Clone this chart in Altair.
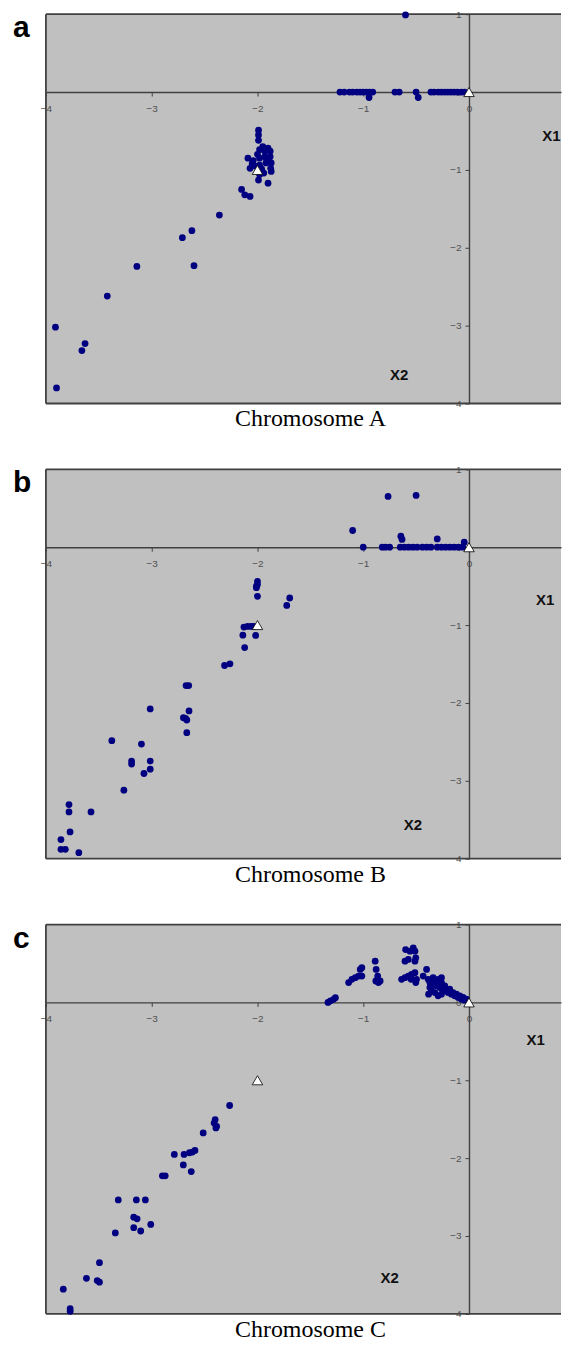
import altair as alt
import pandas as pd

# ---------------- data ----------------
a_x = [-0.60,
       -1.22, -1.18, -1.13, -1.10, -1.06, -1.03, -1.00, -0.97, -0.94, -0.91, -0.945,
       -0.70, -0.66, -0.50, -0.48,
       -0.36, -0.33, -0.29, -0.26, -0.23, -0.20, -0.17, -0.14, -0.11, -0.07, -0.04,
       -1.99, -1.99, -1.99, -1.95, -1.90, -1.98, -1.93, -1.88, -2.09, -2.04, -1.98,
       -1.93, -1.88, -1.87, -2.02, -1.98, -1.92, -1.875, -1.87, -2.07, -1.98, -1.99,
       -1.90, -2.15, -2.12, -2.07, -1.96, -1.94, -2.00, -1.91, -2.05,
       -2.36, -2.62, -2.71, -2.60, -3.14, -3.42, -3.91, -3.63, -3.66, -3.90]
a_y = [0.99,
       0, 0, 0, 0, 0, 0, 0, 0, 0, 0, -0.07,
       0, 0, 0, -0.07,
       0, 0, 0, 0, 0, 0, 0, 0, 0, 0, 0,
       -0.49, -0.55, -0.62, -0.70, -0.72, -0.74, -0.76, -0.76, -0.85, -0.88, -0.85,
       -0.83, -0.83, -0.91, -0.95, -0.94, -0.91, -0.98, -1.02, -0.98, -1.06, -1.13,
       -1.17, -1.25, -1.32, -1.34, -0.99, -1.04, -0.80, -0.87, -0.92,
       -1.58, -1.78, -1.87, -2.23, -2.24, -2.62, -3.02, -3.23, -3.32, -3.80]

b_x = [-0.765, -0.50, -1.10, -0.644, -0.633, -0.30, -0.045,
       -1.00, -0.82, -0.79, -0.75, -0.65, -0.61, -0.57, -0.53, -0.49, -0.44, -0.40,
       -0.36, -0.30, -0.26, -0.22, -0.18, -0.14, -0.10, -0.06,
       -2.00, -2.00, -2.01, -2.01, -2.00, -1.695, -1.723,
       -2.128, -2.093, -2.059, -2.035, -2.138, -2.017, -2.121,
       -2.311, -2.26, -2.675, -2.65, -3.014, -2.647, -2.68, -2.668, -2.70, -2.668,
       -3.377, -3.097, -3.19, -3.19, -3.014, -3.014, -3.073, -3.263,
       -3.782, -3.782, -3.574, -3.772, -3.858, -3.858, -3.817, -3.689]
b_y = [0.652, 0.665, 0.215, 0.142, 0.10, 0.107, 0.064,
       0, 0, 0, 0, 0, 0, 0, 0, 0, 0, 0,
       0, 0, 0, 0, 0, 0, 0, 0,
       -0.44, -0.48, -0.50, -0.52, -0.63, -0.652, -0.747,
       -1.026, -1.017, -1.017, -1.017, -1.129, -1.133, -1.288,
       -1.519, -1.498, -1.777, -1.777, -2.077, -2.103, -2.197, -2.219, -2.19, -2.382,
       -2.485, -2.528, -2.747, -2.785, -2.747, -2.85, -2.906, -3.12,
       -3.305, -3.399, -3.399, -3.657, -3.755, -3.88, -3.88, -3.923]

c_x = [-1.333, -1.31, -1.28, -1.263,
       -1.138, -1.107, -1.075, -1.044, -1.028, -1.013, -1.013,
       -0.887, -0.878, -0.863, -0.881, -0.856, -0.84,
       -0.637, -0.605, -0.574, -0.543, -0.511, -0.496, -0.605, -0.574, -0.558, -0.527,
       -0.511, -0.511, -0.599, -0.503, -0.503, -0.547,
       -0.433, -0.401, -0.386, -0.370, -0.355, -0.339, -0.323, -0.307, -0.292, -0.276,
       -0.26, -0.26, -0.245, -0.229, -0.213, -0.198, -0.182, -0.166, -0.151, -0.135,
       -0.119, -0.103, -0.087, -0.072, -0.056, -0.04, -0.025, -0.382, -0.355, -0.323,
       -0.292, -0.26, -0.370,
       -2.263, -2.41, -2.393, -2.386, -2.40, -2.513, -2.786, -2.694, -2.643, -2.615,
       -2.591, -2.701, -2.626, -2.899, -2.872, -3.316, -3.145, -3.06, -3.17, -3.138,
       -3.17, -3.104, -3.009, -3.344, -3.494, -3.617, -3.515, -3.494, -3.836, -3.771,
       -3.771]
c_y = [0.0, 0.02, 0.04, 0.06,
       0.255, 0.297, 0.318, 0.339, 0.424, 0.339, 0.446,
       0.53, 0.424, 0.339, 0.275, 0.255, 0.275,
       0.297, 0.318, 0.339, 0.361, 0.382, 0.297, 0.53, 0.552, 0.658, 0.701,
       0.658, 0.53, 0.679, 0.573, 0.255, 0.297,
       0.339, 0.424, 0.297, 0.255, 0.233, 0.318, 0.275, 0.212, 0.297, 0.191,
       0.318, 0.255, 0.148, 0.212, 0.169, 0.127, 0.169, 0.106, 0.127, 0.084,
       0.106, 0.064, 0.084, 0.042, 0.064, 0.029, 0.042, 0.106, 0.157, 0.127,
       0.084, 0.106, 0.191,
       -1.324, -1.549, -1.612, -1.591, -1.506, -1.676, -1.952, -1.952, -1.931, -1.922,
       -1.901, -2.087, -2.172, -2.227, -2.227, -2.537, -2.537, -2.537, -2.758, -2.779,
       -2.894, -2.936, -2.851, -2.961, -3.343, -3.543, -3.572, -3.594, -3.683, -3.933,
       -3.967]

tri_x = [0, -2]
tri_y = [0, -1]
x_ticks = [-4, -3, -2, -1, 0]
y_ticks = [-4, -3, -2, -1, 0, 1]
titles = ["Chromosome A", "Chromosome B", "Chromosome C"]
letters = ["a", "b", "c"]
x1_pos = [(0.78, -0.56), (0.72, -0.68), (0.63, -0.48)]
x2_pos = [(-0.66, -3.63), (-0.53, -3.57), (-0.75, -3.54)]

# ---------------- layout ----------------
W, H = 516, 390
X_DOM = [-4, 0.87]
Y_DOM = [-4, 1]
x0_px = (0 - X_DOM[0]) / (X_DOM[1] - X_DOM[0]) * W
y0_px = (Y_DOM[1] - 0) / (Y_DOM[1] - Y_DOM[0]) * H
LINE = "#404040"

x_axis = alt.Axis(values=x_ticks, orient="bottom", offset=-(H - y0_px), title=None,
                  grid=False, domainColor=LINE, domainWidth=1.4, tickColor=LINE,
                  tickSize=4, labelFont="Liberation Sans", labelFontSize=10,
                  labelColor="#505050", labelPadding=7, labelFlush=False,
                  labelOverlap=False, format="d")
y_axis = alt.Axis(values=y_ticks, orient="left", offset=-x0_px, title=None,
                  grid=False, domainColor=LINE, domainWidth=1.4, tickColor=LINE,
                  tickSize=4, labelFont="Liberation Sans", labelFontSize=10,
                  labelColor="#505050", labelPadding=4, labelFlush=False,
                  labelOverlap=False, format="d")


def xe(f):
    return alt.X(f, type="quantitative",
                 scale=alt.Scale(domain=X_DOM, nice=False, zero=False), axis=x_axis)


def ye(f):
    return alt.Y(f, type="quantitative",
                 scale=alt.Scale(domain=Y_DOM, nice=False, zero=False), axis=y_axis)


one = pd.DataFrame({"d": [0]})


def panel(xs, ys, i):
    pts = pd.DataFrame({"x": xs, "y": ys})
    tri = pd.DataFrame({"x": tri_x, "y": tri_y})
    lab = pd.DataFrame({"x": [x1_pos[i][0], x2_pos[i][0]],
                        "y": [x1_pos[i][1], x2_pos[i][1]],
                        "t": ["X1", "X2"]})
    border = [
        alt.Chart(one).mark_rule(color=LINE, strokeWidth=1.8).encode(
            x=alt.value(0), x2=alt.value(W), y=alt.value(0)),
        alt.Chart(one).mark_rule(color=LINE, strokeWidth=1.8).encode(
            x=alt.value(0), x2=alt.value(W), y=alt.value(H)),
        alt.Chart(one).mark_rule(color=LINE, strokeWidth=1.8).encode(
            x=alt.value(0), y=alt.value(0), y2=alt.value(H)),
    ]
    dots = alt.Chart(pts).mark_circle(size=46, color="#000080", opacity=1).encode(
        x=xe("x"), y=ye("y"))
    tris = alt.Chart(tri).mark_point(shape="triangle-up", filled=True, fill="white",
                                     stroke="black", strokeWidth=0.8, size=110,
                                     opacity=1).encode(x=xe("x"), y=ye("y"))
    xl = alt.Chart(lab).mark_text(font="Liberation Sans", fontWeight="bold",
                                  fontSize=15, color="#111111").encode(
        x=xe("x"), y=ye("y"), text="t:N")
    letter = alt.Chart(pd.DataFrame({"t": [letters[i]]})).mark_text(
        align="left", baseline="top", font="Liberation Sans", fontWeight="bold",
        fontSize=30, color="black").encode(
        x=alt.value(-33), y=alt.value(-1), text="t:N")
    title = alt.Chart(pd.DataFrame({"t": [titles[i]]})).mark_text(
        align="center", baseline="alphabetic", font="Liberation Serif",
        fontSize=24, color="black").encode(
        x=alt.value(265), y=alt.value(H + 23), text="t:N")
    return alt.layer(*border, dots, tris, xl, letter, title).properties(width=W, height=H)


chart = alt.vconcat(panel(a_x, a_y, 0), panel(b_x, b_y, 1), panel(c_x, c_y, 2),
                    spacing=33).properties(
    padding={"top": 0, "left": 5, "right": 0, "bottom": 0}
).configure_view(fill="#c0c0c0", stroke=None)

chart.save("out.html", embed_options={"renderer": "svg", "actions": False})
